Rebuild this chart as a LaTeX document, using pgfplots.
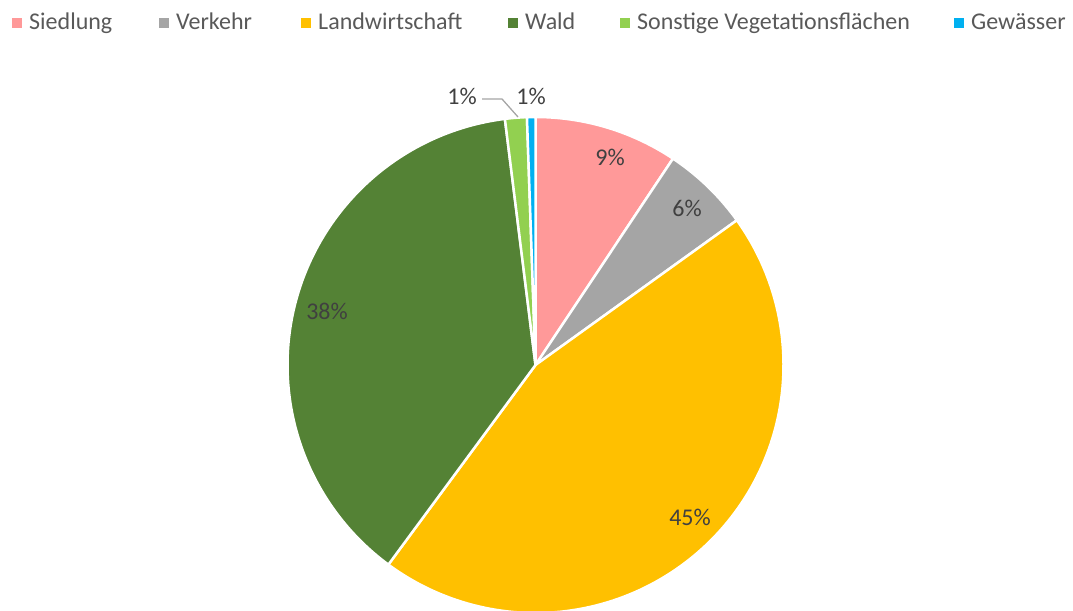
\documentclass[border=0pt]{standalone}
\usepackage{pgfplots}
\pgfplotsset{compat=1.18}
\usepackage{pgfplotstable}
\usepackage{fontspec}
\setmainfont{Carlito}
\definecolor{c0}{HTML}{FF9999}
\definecolor{c1}{HTML}{A5A5A5}
\definecolor{c2}{HTML}{FFC000}
\definecolor{c3}{HTML}{548235}
\definecolor{c4}{HTML}{92D050}
\definecolor{c5}{HTML}{00B0F0}
\definecolor{txt}{HTML}{595959}
\definecolor{lbl}{HTML}{404040}
\pgfplotstableread{
label value
Siedlung 9.35
Verkehr 5.73
Landwirtschaft 45.03
Wald 37.92
Sonstige 1.42
Gewaesser 0.55
}\piedata
\begin{document}
\begin{tikzpicture}
\useasboundingbox (0,0) rectangle (1073bp,611bp);
\begin{axis}[hide axis, scale only axis, width=1073bp, height=611bp,
  xmin=0, xmax=1073, ymin=0, ymax=611, anchor=south west, at={(0,0)}]
\def\cum{0}
\pgfplotsforeachungrouped \i in {0,...,5}{%
  \pgfplotstablegetelem{\i}{value}\of\piedata
  \let\v\pgfplotsretval
  \pgfmathsetmacro{\a}{90-3.6*\cum}%
  \pgfmathsetmacro{\b}{90-3.6*(\cum+\v)}%
  \edef\temp{\noexpand\addplot[fill=c\i, draw=white, line width=2.5pt, line join=round, domain=\b:\a, samples=120, variable=\noexpand\t] ({535.5+248*cos(\noexpand\t)},{246+248*sin(\noexpand\t)}) -- (axis cs:535.5,246) -- cycle;}%
  \temp
  \pgfmathsetmacro{\cum}{\cum+\v}%
}
% data labels
\begin{scope}[every node/.style={font=\fontsize{24bp}{28bp}\selectfont, text=lbl, inner sep=0pt}]
\node at (axis cs:610,454) {9\%};
\node at (axis cs:687,403) {6\%};
\node at (axis cs:690,94) {45\%};
\node at (axis cs:327,300) {38\%};
\node at (axis cs:462,515) {1\%};
\node at (axis cs:531,515) {1\%};
\end{scope}
\draw[c1, line width=1.3pt] (axis cs:482,512) -- (axis cs:502,512) -- (axis cs:518,494);
% legend
\begin{scope}[every node/.style={font=\fontsize{24bp}{28bp}\selectfont, text=txt, inner sep=0pt, anchor=base west}]
\fill[c0] (axis cs:12,583) rectangle (axis cs:22,593);
\node at (axis cs:29,581) {Siedlung};
\fill[c1] (axis cs:159,583) rectangle (axis cs:169,593);
\node at (axis cs:176,581) {Verkehr};
\fill[c2] (axis cs:301,583) rectangle (axis cs:311,593);
\node at (axis cs:318,581) {Landwirtschaft};
\fill[c3] (axis cs:508,583) rectangle (axis cs:518,593);
\node at (axis cs:525,581) {Wald};
\fill[c4] (axis cs:620,583) rectangle (axis cs:630,593);
\node at (axis cs:637,581) {Sonstige Vegetationsflächen};
\fill[c5] (axis cs:954,583) rectangle (axis cs:964,593);
\node at (axis cs:971,581) {Gewässer};
\end{scope}
\end{axis}
\end{tikzpicture}
\end{document}
